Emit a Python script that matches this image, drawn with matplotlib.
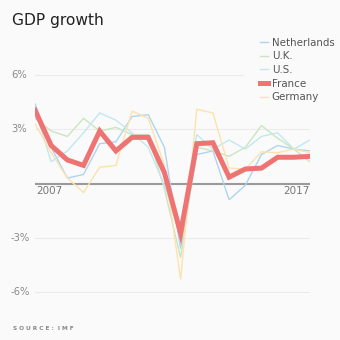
import matplotlib
matplotlib.use("Agg")
import matplotlib.pyplot as plt
import matplotlib.transforms as mtransforms
import numpy as np

# annual real GDP growth, %
years = np.arange(2000, 2018)
netherlands = [4.4, 2.0, 0.3, 0.5, 2.2, 2.3, 3.7, 3.8, 2.0, -3.6, 1.6, 1.8, -0.9, -0.1, 1.6, 2.1, 1.9, 1.8]
uk = [3.6, 2.9, 2.6, 3.6, 2.9, 3.1, 2.7, 2.7, -0.3, -4.1, 2.0, 1.8, 1.5, 2.0, 3.2, 2.5, 1.9, 1.2]
us = [4.1, 1.2, 1.8, 2.8, 3.9, 3.5, 2.8, 2.0, -0.1, -2.8, 2.7, 1.9, 2.4, 1.9, 2.6, 2.8, 1.9, 2.4]
france = [4.05, 2.1, 1.3, 1.0, 2.9, 1.8, 2.55, 2.55, 0.6, -2.75, 2.2, 2.25, 0.35, 0.8, 0.85, 1.45, 1.45, 1.5]
germany = [3.3, 1.7, 0.3, -0.5, 0.9, 1.0, 4.0, 3.6, 1.0, -5.3, 4.1, 3.9, 0.85, 0.8, 1.75, 1.7, 1.9, 1.7]

series = [
    ("Netherlands", netherlands, "#aed5ef", 1.0),
    ("U.K.", uk, "#c9e6c0", 1.0),
    ("U.S.", us, "#c2e8ef", 1.0),
    ("France", france, "#f07373", 3.6),
    ("Germany", germany, "#fde2ae", 1.0),
]
yticks = [6, 3, -3, -6]

bg = "#fafafa"
W = H = 340.0
fig = plt.figure(figsize=(3.4, 3.4), dpi=100, facecolor=bg)

# axes placed so that 0% sits at y=183.5px and 1% = 18.1px
x0, x1 = 35, 310
ylo, yhi = -7, 7
top_px = 183.5 - yhi * 18.1
bot_px = 183.5 - ylo * 18.1
ax = fig.add_axes([x0 / W, 1 - bot_px / H, (x1 - x0) / W, (bot_px - top_px) / H])
ax.set_facecolor(bg)
ax.set_xlim(years[0], years[-1])
ax.set_ylim(ylo, yhi)
ax.axis("off")

for t in yticks:
    xmax = (243 - x0) / (x1 - x0) if t == 6 else 1
    ax.axhline(t, xmin=0, xmax=xmax, color="#ebebeb", lw=0.8, zorder=1)
ax.axhline(0, color="#9a9a9a", lw=1.5, zorder=2)

handles = []
for name, vals, col, lw in series:
    h, = ax.plot(years, vals, color=col, lw=lw, label=name, zorder=5 if name == "France" else 3,
                 solid_joinstyle="miter")
    handles.append(h)

trans = mtransforms.blended_transform_factory(fig.transFigure, ax.transData)
for t in yticks:
    fig.text(11 / W, t, f"{t}%", transform=trans, ha="left", va="center",
             fontsize=7.2, color="#8a8a8a")

fig.text(36 / W, 1 - 191 / H, "2007", ha="left", va="center", fontsize=7.5, color="#777777")
fig.text(310 / W, 1 - 191 / H, "2017", ha="right", va="center", fontsize=7.5, color="#777777")

fig.text(12 / W, 1 - 20 / H, "GDP growth", ha="left", va="center", fontsize=11.2, color="#222222")

fig.legend(handles=handles, loc="upper left", bbox_to_anchor=(260 / W, 1 - 37.5 / H),
           frameon=False, fontsize=7.4, handlelength=0.75, handletextpad=0.4,
           labelspacing=0.36, borderpad=0, borderaxespad=0, labelcolor="#555555")

fig.text(13 / W, 1 - 328 / H, "S O U R C E :  I M F", ha="left", va="center",
         fontsize=4.2, color="#888888", fontweight="bold")

fig.savefig("out.png", dpi=100, facecolor=bg)
